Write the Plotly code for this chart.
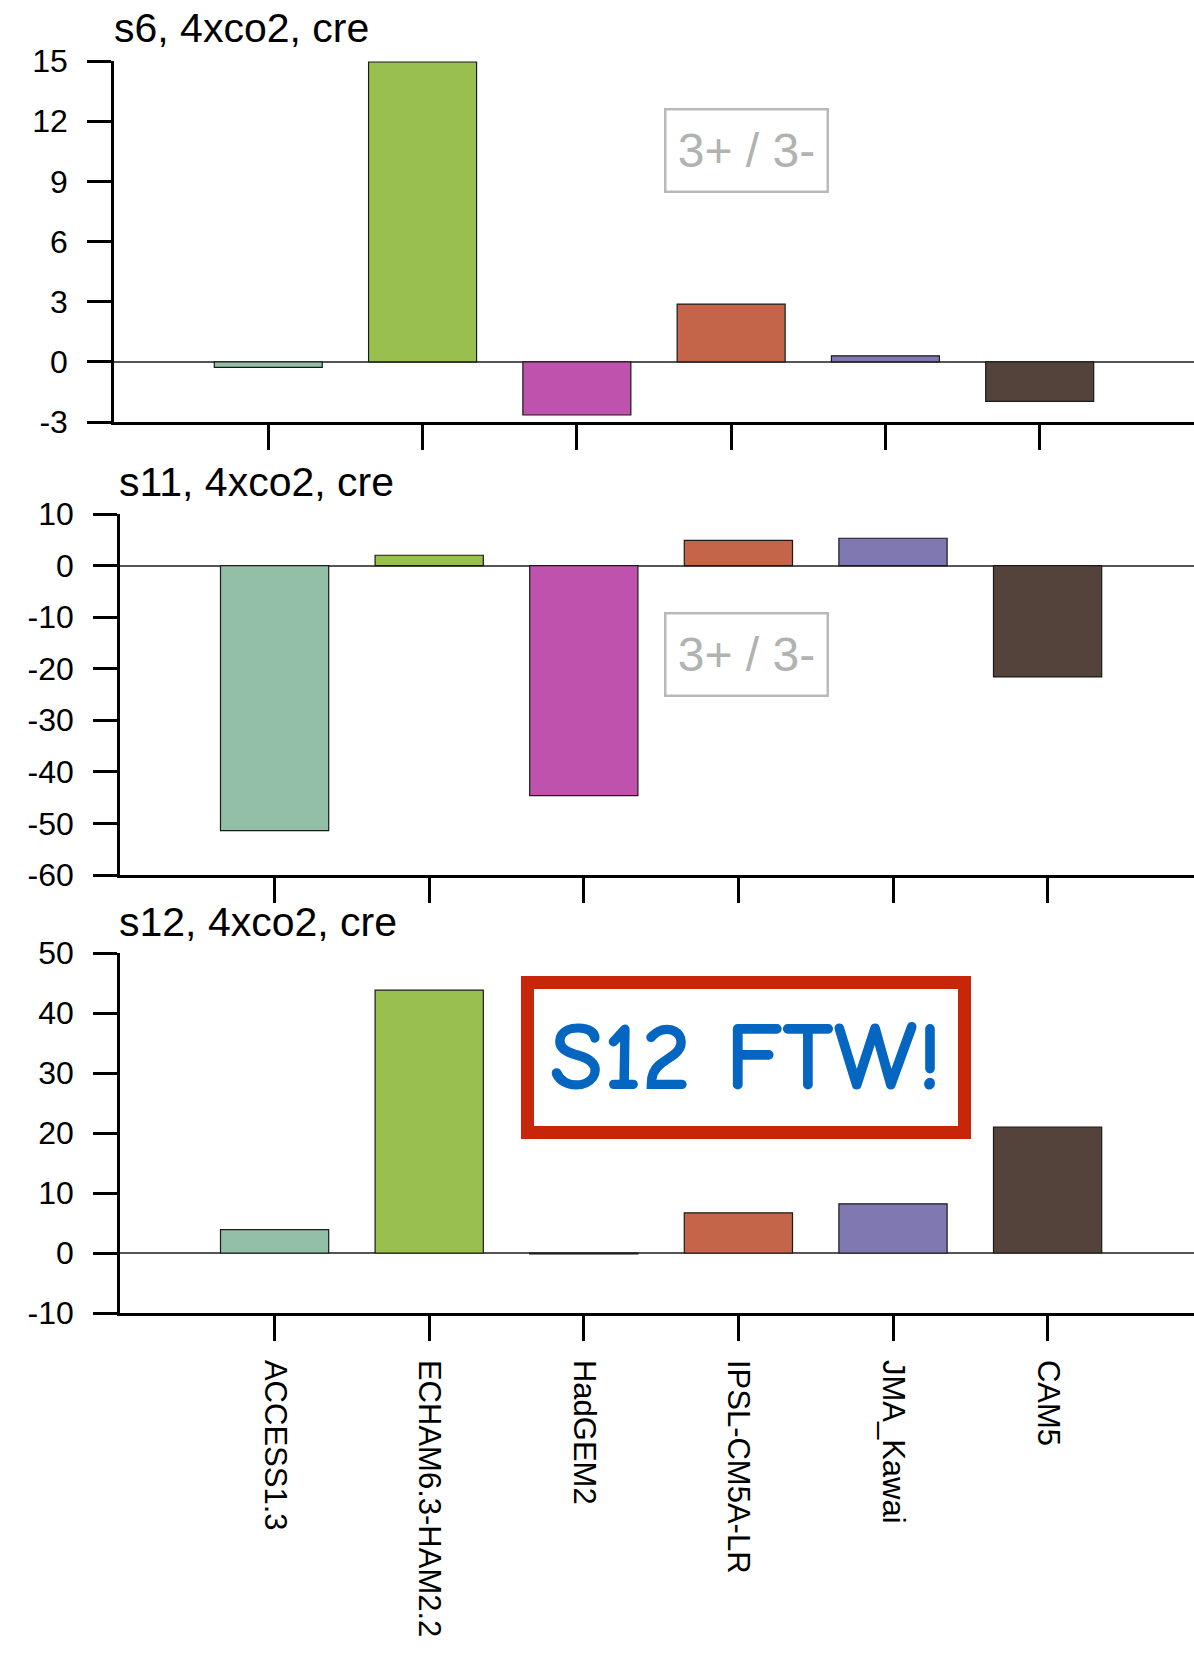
import plotly.graph_objects as go

# ---------------- data ----------------
models = ["ACCESS1.3", "ECHAM6.3-HAM2.2", "HadGEM2", "IPSL-CM5A-LR", "JMA_Kawai", "CAM5"]
bar_colors = ["#94bfa7", "#99bf4f", "#bf52ac", "#c46449", "#8078b0", "#53433a"]

s6_cre = [-0.28, 14.95, -2.65, 2.88, 0.30, -1.97]
s11_cre = [-51.4, 2.0, -44.6, 4.9, 5.3, -21.6]
s12_cre = [3.9, 43.8, -0.15, 6.7, 8.2, 21.0]

panel_titles = ["s6, 4xco2, cre", "s11, 4xco2, cre", "s12, 4xco2, cre"]
s6_ticks = [15, 12, 9, 6, 3, 0, -3]
s11_ticks = [10, 0, -10, -20, -30, -40, -50, -60]
s12_ticks = [50, 40, 30, 20, 10, 0, -10]

# ---------------- layout helpers ----------------
W, H = 1194, 1654
ML = 114
PW = W - ML


def xp(px):
    return (px - ML) / PW


def yp(py):
    return 1 - py / H


FONT = "Liberation Sans, Arial, Helvetica, sans-serif"

fig = go.Figure()

series = [s6_cre, s11_cre, s12_cre]
for i, vals in enumerate(series):
    sfx = "" if i == 0 else str(i + 1)
    fig.add_trace(go.Bar(
        x=models, y=vals,
        xaxis="x" + sfx, yaxis="y" + sfx,
        width=0.7,
        marker=dict(color=bar_colors, line=dict(color="#1a1a1a", width=1.2)),
        showlegend=False,
        hoverinfo="x+y",
    ))

common_x = dict(
    type="category", categoryorder="array", categoryarray=models,
    showgrid=False, zeroline=False,
    showline=True, linecolor="black", linewidth=2.5,
    ticks="outside", ticklen=25, tickwidth=2.5, tickcolor="black",
    tickfont=dict(family=FONT, size=31, color="black"),
    automargin=False,
    fixedrange=True,
)
common_y = dict(
    showgrid=False,
    zeroline=True, zerolinecolor="#555555", zerolinewidth=1.5,
    showline=True, linecolor="black", linewidth=2.5,
    ticks="outside", ticklen=24, tickwidth=2.5, tickcolor="black",
    tickfont=dict(family=FONT, size=32, color="black"),
    ticklabelstandoff=13,
    automargin=False,
    fixedrange=True,
)

layout = dict(
    width=W, height=H,
    margin=dict(l=ML, r=0, t=0, b=0, autoexpand=False),
    paper_bgcolor="white", plot_bgcolor="white",
    bargap=0.3,
    font=dict(family=FONT, color="black"),
)

layout["xaxis"] = dict(common_x, domain=[0, 1], anchor="y", range=[-1, 6.0], showticklabels=False)
layout["yaxis"] = dict(common_y, domain=[yp(422), yp(61)], anchor="x", range=[-3, 15],
                       tickvals=s6_ticks, ticktext=[str(v) for v in s6_ticks])

layout["xaxis2"] = dict(common_x, domain=[xp(120), 1], anchor="y2", range=[-1, 5.947], showticklabels=False)
layout["yaxis2"] = dict(common_y, domain=[yp(875), yp(514)], anchor="x2", range=[-60, 10],
                        tickvals=s11_ticks, ticktext=[str(v) for v in s11_ticks])

layout["xaxis3"] = dict(common_x, domain=[xp(120), 1], anchor="y3", range=[-1, 5.947],
                        showticklabels=True, tickangle=90, ticklabelstandoff=13)
layout["yaxis3"] = dict(common_y, domain=[yp(1313), yp(953)], anchor="x3", range=[-10, 50],
                        tickvals=s12_ticks, ticktext=[str(v) for v in s12_ticks])

annotations = []
title_pos = [(112, 28), (117, 482), (117, 922)]
for t, (px, py) in zip(panel_titles, title_pos):
    annotations.append(dict(
        text=t, xref="paper", yref="paper", x=xp(px), y=yp(py),
        xanchor="left", yanchor="middle", showarrow=False,
        font=dict(family=FONT, size=41, color="black"),
    ))

for (cx, cy) in [(746.5, 150.5), (746, 655)]:
    annotations.append(dict(
        text="3+ / 3-", xref="paper", yref="paper", x=xp(cx), y=yp(cy),
        xanchor="center", yanchor="middle", showarrow=False,
        font=dict(family=FONT, size=48, color="#b0b3b0"),
        bordercolor="#b8bab8", borderwidth=2.5, borderpad=0,
        width=160, height=80, bgcolor="white",
    ))

annotations.append(dict(
    text="S12 FTW!", xref="paper", yref="paper", x=xp(746), y=yp(1057.5),
    xanchor="center", yanchor="middle", showarrow=False,
    font=dict(family="Comic Sans MS, Comic Neue, Lato, sans-serif", size=98, color="#0566c2", weight=700),
    bordercolor="#c8260a", borderwidth=13, borderpad=0,
    width=424, height=137, bgcolor="white",
))
layout["annotations"] = annotations

fig.update_layout(**layout)
fig.write_html(
    "out.html",
    config={"displayModeBar": False},
    post_script="document.body.style.margin='0px';document.body.style.overflow='hidden';",
)
